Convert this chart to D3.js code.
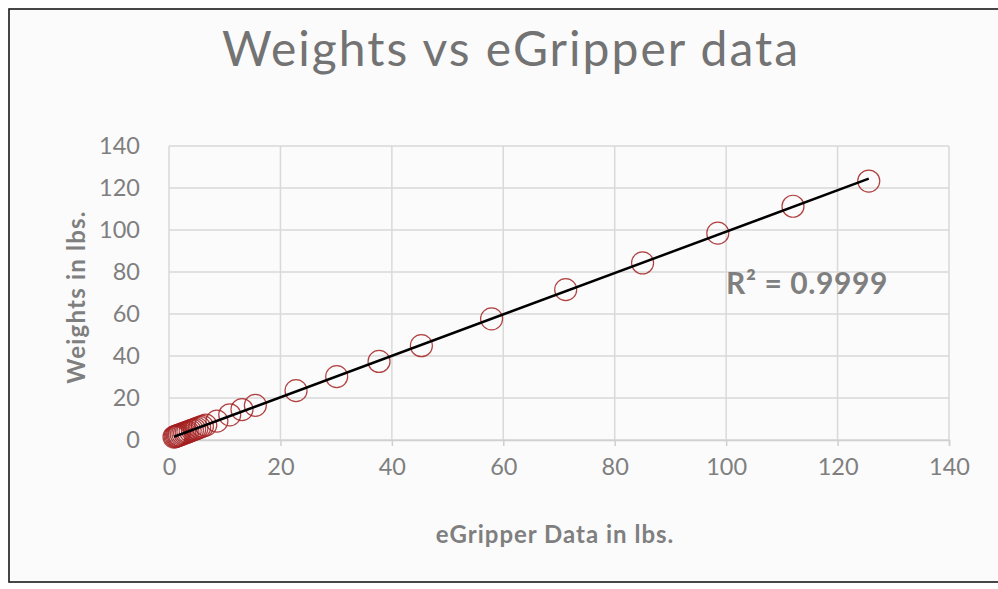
<!DOCTYPE html>
<html><head><meta charset="utf-8">
<script src="https://cdn.jsdelivr.net/npm/d3@7"></script>
<style>body{margin:0;background:#fff;}svg{display:block;}</style>
</head><body>
<svg id="chart" width="998" height="589"></svg>
<script>
const title = "Weights vs eGripper data";
const xLabel = "eGripper Data in lbs.";
const yLabel = "Weights in lbs.";
const r2Label = "R² = 0.9999";
const xTicks = [0,20,40,60,80,100,120,140];
const yTicks = [0,20,40,60,80,100,120,140];
const eGripper = [0.9,1.1,1.3,1.5,1.7,1.9,2.2,2.5,2.8,3.1,3.4,3.8,4.2,4.6,5.0,5.5,6.0,6.6,8.6,10.9,13.1,15.5,22.8,30.1,37.7,45.3,57.9,71.2,85.0,98.5,112.0,125.6];
const weights  = [1.4,1.6,1.8,2.0,2.2,2.4,2.7,3.0,3.3,3.6,3.9,4.3,4.7,5.1,5.5,6.0,6.5,7.1,9.0,12.0,14.5,16.5,23.5,30.2,37.4,44.9,57.7,71.6,84.3,98.5,111.3,123.3];

const svg = d3.select("#chart");
const font = "Lato, 'Open Sans', sans-serif";
const grey = "#7f7f7f";

// frame
svg.append("rect").attr("x",9).attr("y",9).attr("width",1010).attr("height",573)
  .attr("fill","#fbfbfb").attr("stroke","#1a1a1a").attr("stroke-width",1.6);

const x = d3.scaleLinear().domain([0,140]).range([169,949]);
const y = d3.scaleLinear().domain([0,140]).range([440,146]);

// gridlines
svg.append("g").selectAll("line").data(yTicks).join("line")
  .attr("x1",x(0)).attr("x2",x(140)).attr("y1",d=>y(d)).attr("y2",d=>y(d))
  .attr("stroke","#d9d9d9").attr("stroke-width",1.5);
svg.append("g").selectAll("line").data(xTicks).join("line")
  .attr("y1",y(0)).attr("y2",y(140)).attr("x1",d=>x(d)).attr("x2",d=>x(d))
  .attr("stroke","#d9d9d9").attr("stroke-width",1.5);

// x axis with tick marks
const xAxis = d3.axisBottom(x).tickValues(xTicks).tickSize(6).tickPadding(12).tickFormat(d3.format("d"));
const gx = svg.append("g").attr("transform",`translate(0,${y(0)})`).call(xAxis);
gx.select(".domain").attr("stroke","#d0d0d0").attr("stroke-width",1.5);
gx.selectAll(".tick line").attr("stroke","#d0d0d0").attr("stroke-width",1.5);
gx.selectAll("text").attr("fill",grey).attr("font-family",font).attr("font-size",23.5);

const yAxis = d3.axisLeft(y).tickValues(yTicks).tickSize(0).tickPadding(29).tickFormat(d3.format("d"));
const gy = svg.append("g").attr("transform",`translate(${x(0)},0)`).call(yAxis);
gy.select(".domain").remove();
gy.selectAll("text").attr("fill",grey).attr("font-family",font).attr("font-size",23.5);

// trendline from regression
const n = eGripper.length;
const mx = d3.mean(eGripper), my = d3.mean(weights);
let sxy=0,sxx=0;
for(let i=0;i<n;i++){sxy+=(eGripper[i]-mx)*(weights[i]-my);sxx+=(eGripper[i]-mx)**2;}
const slope=sxy/sxx, icpt=my-slope*mx;
const x0=d3.min(eGripper), x1=d3.max(eGripper);

// points
svg.append("g").selectAll("circle").data(eGripper).join("circle")
  .attr("cx",d=>x(d)).attr("cy",(d,i)=>y(weights[i])).attr("r",11)
  .attr("fill","none").attr("stroke","#a32020").attr("stroke-width",1.2).attr("stroke-opacity",0.85);

svg.append("line").attr("x1",x(x0)).attr("y1",y(slope*x0+icpt))
  .attr("x2",x(x1)).attr("y2",y(slope*x1+icpt))
  .attr("stroke","#000").attr("stroke-width",2.5);

// texts
svg.append("text").attr("x",511).attr("y",66).attr("text-anchor","middle")
  .attr("font-family",font).attr("font-size",48).attr("letter-spacing",2).attr("fill","#737373").text(title);
svg.append("text").attr("x",555).attr("y",543).attr("text-anchor","middle")
  .attr("font-family",font).attr("font-weight","bold").attr("font-size",24).attr("letter-spacing",1).attr("fill",grey).text(xLabel);
svg.append("text").attr("transform","translate(85,297) rotate(-90)").attr("text-anchor","middle")
  .attr("font-family",font).attr("font-weight","bold").attr("font-size",24).attr("letter-spacing",1.2).attr("fill",grey).text(yLabel);
svg.append("text").attr("x",726).attr("y",294)
  .attr("font-family",font).attr("font-weight","bold").attr("font-size",30).attr("letter-spacing",0.6).attr("fill",grey).text(r2Label);
</script>
</body></html>
